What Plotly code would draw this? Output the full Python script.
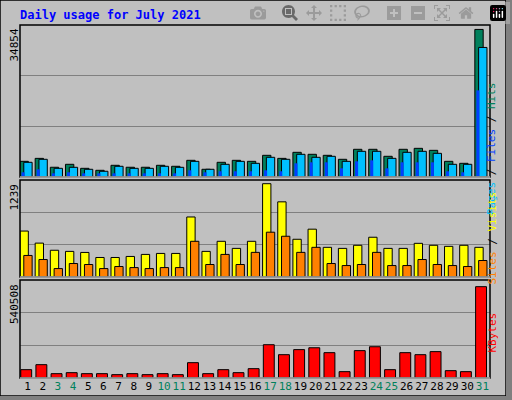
import plotly.graph_objects as go

days = list(range(1, 32))
weekend = [3, 4, 10, 11, 17, 18, 24, 25, 31]
hits = [3700, 4400, 2300, 3000, 2050, 1580, 2760, 2300, 2300, 2760, 2530, 3940, 1820, 3470, 3940, 3700,
        5120, 4400, 5830, 5360, 5120, 4180, 6540, 6540, 4890, 6540, 6770, 6300, 3700, 3230, 34854]
cyan = [3470, 4180, 2050, 2290, 1820, 1350, 2530, 2050, 2050, 2530, 2290, 3700, 1820, 3000, 3700, 3230,
        4650, 4180, 5360, 4650, 4890, 3700, 6070, 6070, 4410, 5830, 6070, 5590, 3000, 3000, 30600]
blue = [1110, 1820, 870, 1110, 870, 870, 870, 870, 870, 870, 870, 1580, 1110, 1350, 1350, 1350,
        1580, 1350, 3230, 3470, 3470, 2050, 3700, 3940, 2050, 3470, 3470, 3470, 1350, 1110, 20460]
visits = [610, 450, 355, 340, 326, 259, 259, 273, 300, 313, 313, 797, 340, 474, 380, 474,
          1239, 998, 501, 635, 394, 380, 421, 528, 380, 380, 447, 421, 407, 421, 394]
sites = [286, 232, 112, 179, 166, 112, 139, 125, 112, 125, 125, 474, 166, 300, 166, 327,
         595, 541, 327, 394, 179, 152, 166, 327, 152, 152, 232, 166, 152, 139, 219]
kbytes = [49300, 78900, 25600, 31600, 25600, 25600, 19700, 25600, 19700, 25600, 19700, 90800, 25600, 49300, 31600, 55200,
          197000, 138000, 168000, 179000, 150000, 37500, 162000, 185000, 49300, 150000, 138000, 156000, 43400, 37500, 540508]

W, H = 512, 400
def fy(p): return 1 - p / H
def fx(p): return p / W

mono = "DejaVu Sans Mono"
green, cyanc, bluec = "#00805c", "#00c0ff", "#0040ff"
fig = go.Figure()
ln = dict(color="black", width=1)
fig.add_bar(x=days, y=hits, width=0.55, offset=-0.5, marker=dict(color=green, line=ln), xaxis="x", yaxis="y")
fig.add_bar(x=days, y=cyan, width=0.55, offset=-0.25, marker=dict(color=cyanc, line=ln), xaxis="x", yaxis="y")
fig.add_bar(x=days, y=blue, width=0.2, offset=-0.4, marker=dict(color=bluec, line=dict(width=0)), xaxis="x", yaxis="y")
fig.add_bar(x=days, y=visits, width=0.55, offset=-0.5, marker=dict(color="#ffff00", line=ln), xaxis="x2", yaxis="y2")
fig.add_bar(x=days, y=sites, width=0.55, offset=-0.25, marker=dict(color="#ff8000", line=ln), xaxis="x2", yaxis="y2")
fig.add_bar(x=days, y=kbytes, width=0.72, offset=-0.45, marker=dict(color="#ff0000", line=ln), xaxis="x3", yaxis="y3")

dom_x = [fx(20), fx(490)]
panels = [(25, 177, 35900, 34854), (180, 277, 1288, 1239), (280, 378, 580000, 540508)]
ticktext = [f"<span style='color:{green if d in weekend else 'black'}'>{d}</span>" for d in days]
lay = dict(width=W, height=H, margin=dict(l=0, r=0, t=0, b=0), paper_bgcolor="#c0c0c0",
           plot_bgcolor="#c0c0c0", showlegend=False, barmode="overlay",
           font=dict(family=mono, size=11, color="black"))
anns, shapes = [], []
for i, (top, bot, rng, mx) in enumerate(panels):
    s = "" if i == 0 else str(i + 1)
    lay["xaxis" + s] = dict(domain=dom_x, range=[0.5, 31.5], showgrid=False, zeroline=False,
                            tickvals=days if i == 2 else [], ticktext=ticktext if i == 2 else None,
                            ticks="", showticklabels=(i == 2), anchor="y" + s, tickangle=0,
                            tickfont=dict(family=mono, size=11))
    lay["yaxis" + s] = dict(domain=[fy(bot), fy(top)], range=[0, rng], tickvals=[rng / 3, 2 * rng / 3],
                            showticklabels=False, gridcolor="#808080", gridwidth=1, zeroline=False,
                            anchor="x" + s)
    anns.append(dict(xref="paper", yref="paper", x=fx(14), y=fy(top + 2), text=str(mx), textangle=-90,
                     showarrow=False, xanchor="center", yanchor="top",
                     font=dict(family=mono, size=11, color="black")))
    shapes.append(dict(type="rect", xref="paper", yref="paper", x0=dom_x[0], x1=dom_x[1],
                       y0=fy(bot), y1=fy(top), line=dict(color="black", width=1.5)))
    shapes.append(dict(type="line", xref="paper", yref="paper", x0=dom_x[0], x1=dom_x[1],
                       y0=fy(bot), y1=fy(bot), line=dict(color="white", width=1)))

anns.append(dict(xref="paper", yref="paper", x=fx(18), y=fy(15), text="<b>Daily usage for July 2021</b>",
                 showarrow=False, xanchor="left", yanchor="middle",
                 font=dict(family=mono, size=12, color="#0000ff")))
anns.append(dict(xref="paper", yref="paper", x=fx(500), y=fy(80),
                 text=f"<span style='color:{cyanc}'>Pages</span> / <span style='color:{bluec}'>Files</span> / <span style='color:{green}'>Hits</span>",
                 textangle=-90, showarrow=False, font=dict(family=mono, size=11)))
anns.append(dict(xref="paper", yref="paper", x=fx(500), y=fy(238),
                 text="<span style='color:#ff8000'>Sites</span> / <span style='color:#ffff00'>Visits</span>",
                 textangle=-90, showarrow=False, font=dict(family=mono, size=11)))
anns.append(dict(xref="paper", yref="paper", x=fx(500), y=fy(355),
                 text="<span style='color:#ff0000'>KBytes</span>",
                 textangle=-90, showarrow=False, font=dict(family=mono, size=11)))
shapes.append(dict(type="rect", xref="paper", yref="paper", x0=0, x1=fx(506), y0=fy(396), y1=1,
                   line=dict(color="black", width=1.5)))
shapes.append(dict(type="rect", xref="paper", yref="paper", x0=fx(506), x1=1, y0=0, y1=1,
                   fillcolor="#808080", line=dict(width=0)))
shapes.append(dict(type="rect", xref="paper", yref="paper", x0=0, x1=1, y0=0, y1=fy(396),
                   fillcolor="#808080", line=dict(width=0)))
lay["annotations"] = anns
lay["shapes"] = shapes
fig.update_layout(**lay)
fig.write_html("out.html", post_script="document.body.style.margin='0';document.body.style.overflow='hidden';")
